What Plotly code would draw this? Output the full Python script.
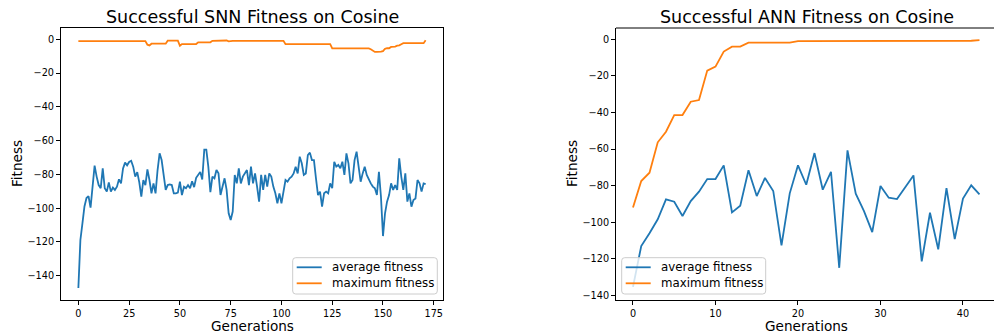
import plotly.graph_objects as go

# ---------------- data ----------------
snn_avg = [
    -147.2, -118.8, -109.0, -99.0, -94.0, -92.8, -99.7, -85.0, -74.8, -81.3,
    -86.3, -88.2, -76.4, -88.2, -90.2, -84.7, -90.2, -87.8, -89.2, -87.3,
    -82.9, -85.3, -76.4, -73.0, -74.6, -72.6, -71.9, -75.4, -81.3, -78.6,
    -84.7, -93.2, -83.3, -86.3, -77.0, -83.3, -91.2, -85.3, -91.2, -77.4,
    -67.5, -71.5, -79.4, -89.2, -86.3, -85.9, -86.3, -91.2, -91.2, -90.8,
    -84.3, -92.2, -87.3, -88.2, -86.3, -88.2,
    -84.0, -87.5, -82.0, -80.0, -78.5, -83.0, -65.3, -65.3, -75.5,
    -90.5, -81.3, -82.3, -77.4, -79.4, -92.2, -87.2, -82.3, -89.2, -103.0,
    -107.0, -102.0, -80.3, -85.3, -76.4, -85.3, -81.3, -79.4, -77.4, -86.3,
    -75.4, -85.3, -79.4, -87.2, -96.1, -80.3, -89.2, -80.3, -87.2, -79.4,
    -81.3, -87.2, -91.2, -97.1, -91.2, -97.1, -91.2, -83.3, -84.3, -82.3,
    -81.3, -79.4, -75.4, -79.4, -69.5, -73.4, -80.3, -79.4, -68.5,
    -67.1, -71.5, -71.5, -82.3, -92.2, -90.2, -99.1, -91.2, -90.2, -91.2,
    -85.3, -88.2, -72.5, -75.4, -74.4, -76.4, -72.5, -80.3, -67.5, -73.4,
    -85.3, -83.3, -71.5, -66.5, -76.4, -84.3, -79.4, -75.4, -80.3,
    -83.3, -85.3, -87.2, -88.2, -92.2, -78.4, -93.2, -116.5, -103.0, -96.1,
    -92.2, -85.3, -89.2, -86.3, -89.2, -70.5, -81.3, -89.2, -79.4, -96.1,
    -91.2, -99.1, -95.1, -94.2, -83.3, -85.3, -90.2, -85.3, -85.7,
]
snn_max = [
    -1.1, -1.1, -1.1, -1.1, -1.1, -1.1, -1.1, -1.1, -1.1, -1.1,
    -1.1, -1.1, -1.1, -1.1, -1.1, -1.1, -1.1, -1.1, -1.1, -1.1,
    -1.1, -1.1, -1.1, -1.1, -1.1, -1.1, -1.1, -1.1, -1.1, -1.1,
    -1.1, -1.1, -1.1, -1.1,
    -3.2, -3.6,
    -2.6, -2.6, -2.6, -2.6, -2.6, -2.6, -2.6, -2.6,
    -0.8, -0.8, -0.8, -0.8, -0.8, -0.8,
    -3.8,
    -2.8, -2.8, -2.8, -2.8, -2.8, -2.8, -2.8, -2.8,
    -1.8, -1.8, -1.8, -1.8, -1.8, -1.8, -1.8,
    -0.9, -0.9, -0.9, -0.9, -0.9, -0.9, -0.9, -0.7, -1.2, -0.9,
    -0.9, -0.9, -0.9, -0.9, -0.9, -0.9, -0.9, -0.9, -0.9, -0.9,
    -0.9, -0.9, -0.9, -0.9, -0.9, -0.9, -0.9, -0.9, -0.9, -0.9,
    -0.9, -0.9, -0.9, -0.9, -0.9, -0.9,
    -2.9, -2.9, -2.9, -2.9, -2.9, -2.9, -2.9, -2.9, -2.9, -2.9,
    -2.9, -2.9, -2.9, -2.9, -2.9, -2.9, -2.9, -2.9, -2.9, -2.9,
    -2.9, -2.9, -2.9,
    -5.4, -5.4, -5.4, -5.4, -5.4, -5.4, -5.4, -5.4, -5.4, -5.4,
    -5.4, -5.4, -5.4, -5.4, -5.4, -5.4, -5.4, -5.4, -5.4,
    -5.9, -6.6, -7.5, -7.5, -7.5, -7.3, -7.0, -5.6, -5.3, -5.3,
    -4.5, -4.5, -4.3, -3.8, -3.6, -2.9,
    -2.3, -2.3, -2.3, -2.3, -2.3, -2.3, -2.3, -2.3, -2.3, -2.3, -2.3,
    -0.6,
]
ann_avg = [
    -135.3, -113.0, -106.0, -98.4, -87.5, -88.8, -96.6, -88.4, -83.3, -76.4,
    -76.4, -68.9, -94.6, -91.0, -71.6, -85.7, -75.8, -82.9, -112.7, -84.2,
    -68.9, -79.5, -62.2, -82.2, -72.4, -124.9, -60.7, -84.4, -93.9, -105.4,
    -80.2, -86.6, -87.3, -80.9, -74.4, -121.4, -94.8, -114.8, -81.3, -109.2,
    -87.0, -79.8, -84.8,
]
ann_max = [
    -91.9, -77.5, -72.9, -56.3, -50.5, -41.4, -41.4, -34.1, -33.2, -17.1,
    -14.9, -6.7, -4.0, -4.0, -1.8, -1.8, -1.8, -1.8, -1.8, -1.8,
    -1.0, -1.0, -1.0, -1.0, -1.0, -1.0, -1.0, -1.0, -1.0, -1.0,
    -0.8, -0.8, -0.8, -0.8, -0.8, -0.8, -0.8, -0.8, -0.8, -0.8,
    -0.8, -0.8, -0.5,
]
snn_gen = list(range(len(snn_avg)))
ann_gen = list(range(len(ann_avg)))

snn_xticks = [0, 25, 50, 75, 100, 125, 150, 175]
ann_xticks = [0, 10, 20, 30, 40]
yticks = [0, -20, -40, -60, -80, -100, -120, -140]
yticktext = ["0" if v == 0 else "\u2212" + str(-v) for v in yticks]

titles = ["Successful SNN Fitness on Cosine", "Successful ANN Fitness on Cosine"]
legend_names = ["average fitness", "maximum fitness"]

BLUE = "#1f77b4"
ORANGE = "#ff7f0e"
FONT = "DejaVu Sans"
LW = 1.8
W, H = 994, 333

fig = go.Figure()
fig.add_trace(go.Scatter(x=snn_gen, y=snn_avg, mode="lines", name=legend_names[0],
                         line=dict(color=BLUE, width=LW), xaxis="x", yaxis="y"))
fig.add_trace(go.Scatter(x=snn_gen, y=snn_max, mode="lines", name=legend_names[1],
                         line=dict(color=ORANGE, width=LW), xaxis="x", yaxis="y"))
fig.add_trace(go.Scatter(x=ann_gen, y=ann_avg, mode="lines", name=legend_names[0],
                         line=dict(color=BLUE, width=LW), xaxis="x2", yaxis="y2"))
fig.add_trace(go.Scatter(x=ann_gen, y=ann_max, mode="lines", name=legend_names[1],
                         line=dict(color=ORANGE, width=LW), xaxis="x2", yaxis="y2"))

axcommon = dict(showgrid=False, zeroline=False, showline=True, linecolor="black", linewidth=1,
                ticks="outside", ticklen=4, tickwidth=1, tickcolor="black",
                tickfont=dict(family=FONT, size=9.7, color="black"))

ydom = [33 / H, 305 / H]
fig.update_layout(
    width=W, height=H,
    margin=dict(l=0, r=0, t=0, b=0),
    paper_bgcolor="white", plot_bgcolor="white",
    font=dict(family=FONT, color="black"),
    showlegend=False,
    xaxis=dict(domain=[61 / W, 443 / W], range=[-8.55, 179.55], tickvals=snn_xticks,
               mirror=True, anchor="y", **axcommon),
    yaxis=dict(domain=ydom, range=[-154.35, 6.69], tickvals=yticks, ticktext=yticktext,
               mirror=True, anchor="x", **axcommon),
    xaxis2=dict(domain=[616 / W, 1.0], range=[-2.06, 43.76], tickvals=ann_xticks,
                anchor="y2", **axcommon),
    yaxis2=dict(domain=ydom, range=[-142.5, 6.18], tickvals=yticks, ticktext=yticktext,
                anchor="x2", **axcommon),
)

# top spine of the right panel (its right spine lies outside the picture)
fig.add_shape(type="line", xref="x2 domain", yref="y2 domain", x0=0, x1=1, y0=1, y1=1,
              line=dict(color="black", width=1))


def px(x):
    return x / W


def py(y):
    return (H - y) / H


# legend boxes (matplotlib style: rounded frame, light grey edge)
def rounded_box(x0, y0, x1, y1, r=3.0):
    ax0, ax1 = px(x0), px(x1)
    ay0, ay1 = py(y0), py(y1)  # ay0 top, ay1 bottom
    rx, ry = r / W, r / H
    return (f"M{ax0 + rx},{ay0} L{ax1 - rx},{ay0} Q{ax1},{ay0} {ax1},{ay0 - ry} "
            f"L{ax1},{ay1 + ry} Q{ax1},{ay1} {ax1 - rx},{ay1} "
            f"L{ax0 + rx},{ay1} Q{ax0},{ay1} {ax0},{ay1 + ry} "
            f"L{ax0},{ay0 - ry} Q{ax0},{ay0} {ax0 + rx},{ay0} Z")


legend_boxes = [(292.7, 257.7, 437.3, 294.0), (621.7, 257.7, 765.7, 294.0)]
legend_colors = [BLUE, ORANGE]
row_y = [267.3, 283.3]
annots = []
for (bx0, by0, bx1, by1) in legend_boxes:
    fig.add_shape(type="path", xref="paper", yref="paper", path=rounded_box(bx0, by0, bx1, by1),
                  fillcolor="rgba(255,255,255,0.8)", line=dict(color="#cccccc", width=1),
                  layer="above")
    for name, col, ry in zip(legend_names, legend_colors, row_y):
        fig.add_shape(type="line", xref="paper", yref="paper",
                      x0=px(bx0 + 4), x1=px(bx0 + 29), y0=py(ry), y1=py(ry),
                      line=dict(color=col, width=LW), layer="above")
        annots.append(dict(text=name, x=px(bx0 + 37), y=py(ry), xref="paper", yref="paper",
                           xanchor="left", yanchor="middle", showarrow=False,
                           font=dict(family=FONT, size=11.8, color="black")))

centers = [(61 + 443) / 2, (616 + 997) / 2]
for cx, t in zip(centers, titles):
    annots.append(dict(text=t, x=px(cx), y=py(17), xref="paper", yref="paper",
                       xanchor="center", yanchor="middle", showarrow=False,
                       font=dict(family=FONT, size=17.5, color="black")))
    annots.append(dict(text="Generations", x=px(cx), y=py(326), xref="paper", yref="paper",
                       xanchor="center", yanchor="middle", showarrow=False,
                       font=dict(family=FONT, size=13.6, color="black")))
for fx in [17, 572]:
    annots.append(dict(text="Fitness", x=px(fx), y=py(164), xref="paper", yref="paper",
                       xanchor="center", yanchor="middle", textangle=-90, showarrow=False,
                       font=dict(family=FONT, size=13.6, color="black")))
fig.update_layout(annotations=annots)

fig.write_html("out.html", config={"displayModeBar": False},
               post_script="document.body.style.margin='0';")
